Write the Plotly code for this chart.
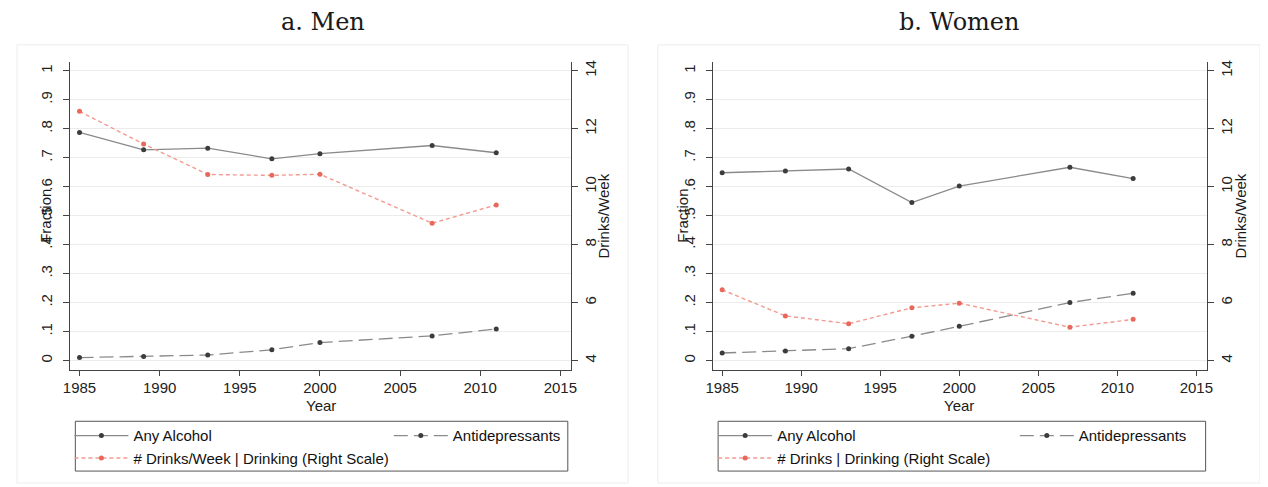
import plotly.graph_objects as go

# ---------------- data ----------------
years = [1985, 1989, 1993, 1997, 2000, 2007, 2011]

men_alcohol = [0.787, 0.727, 0.733, 0.696, 0.714, 0.742, 0.717]
men_antidep = [0.010, 0.014, 0.019, 0.037, 0.062, 0.085, 0.109]
men_drinks = [12.60, 11.47, 10.42, 10.39, 10.43, 8.74, 9.37]

women_alcohol = [0.648, 0.654, 0.661, 0.545, 0.602, 0.667, 0.628]
women_antidep = [0.026, 0.033, 0.041, 0.084, 0.118, 0.200, 0.232]
women_drinks = [6.44, 5.54, 5.27, 5.82, 5.98, 5.15, 5.42]

x_ticks = [1985, 1990, 1995, 2000, 2005, 2010, 2015]
frac_ticks = [0, 0.1, 0.2, 0.3, 0.4, 0.5, 0.6, 0.7, 0.8, 0.9, 1]
frac_labels = ["0", ".1", ".2", ".3", ".4", ".5", ".6", ".7", ".8", ".9", "1"]
drink_ticks = [4, 6, 8, 10, 12, 14]
drink_labels = ["4", "6", "8", "10", "12", "14"]

panel_titles = ["a. Men", "b. Women"]
men_drinks_name = "# Drinks/Week | Drinking (Right Scale)"
women_drinks_name = "# Drinks | Drinking (Right Scale)"

# ---------------- styling ----------------
OFF = 8            # default page body margin
W, H = 1260, 479
SANS = "Liberation Sans, Arial, sans-serif"
SERIF = "DejaVu Serif, Liberation Serif, serif"
GRAY_LINE = "#8a8a8a"
MARK = "#3c3c3c"
RED_LINE = "#f29a90"
RED_MARK = "#e8685c"
AX = "#444444"
GRID = "#ececec"


def px(x):
    return (x - OFF) / W


def py(y):
    return 1 - (y - OFF) / H


fig = go.Figure()


def add_panel(xa, ya, ya2, alc, anti, drk, drk_name, leg_a, leg_b):
    fig.add_trace(go.Scatter(
        x=years, y=alc, xaxis=xa, yaxis=ya, name="Any Alcohol", mode="lines+markers",
        line=dict(color=GRAY_LINE, width=1.3), marker=dict(color=MARK, size=5),
        legend=leg_a, legendrank=1))
    fig.add_trace(go.Scatter(
        x=years, y=drk, xaxis=xa, yaxis=ya2, name=drk_name, mode="lines+markers",
        line=dict(color=RED_LINE, width=1.4, dash="4px,3px"),
        marker=dict(color=RED_MARK, size=5), legend=leg_a, legendrank=2))
    fig.add_trace(go.Scatter(
        x=years, y=anti, xaxis=xa, yaxis=ya, name="Antidepressants", mode="lines+markers",
        line=dict(color=GRAY_LINE, width=1.3, dash="14px,6px"),
        marker=dict(color=MARK, size=5), legend=leg_b))


add_panel("x", "y", "y2", men_alcohol, men_antidep, men_drinks, men_drinks_name,
          "legend", "legend2")
add_panel("x2", "y3", "y4", women_alcohol, women_antidep, women_drinks, women_drinks_name,
          "legend3", "legend4")

xrange = [1984.43, 2015.65]
frange = [-0.0344, 1.031]
drange = [4 + 10 * frange[0], 4 + 10 * frange[1]]
ydom = [py(370), py(60)]

tickfont = dict(family=SANS, size=15, color="#222222")


def xaxis(dom, anchor):
    return dict(domain=dom, anchor=anchor, range=xrange, tickvals=x_ticks,
                showline=True, linecolor=AX, linewidth=1, ticks="outside", ticklen=5,
                tickcolor=AX, tickfont=tickfont, showgrid=False, zeroline=False,
                ticklabelstandoff=-1, fixedrange=True)


def yaxis_left(anchor):
    return dict(domain=ydom, anchor=anchor, range=frange, tickvals=frac_ticks,
                ticktext=frac_labels, tickangle=-90, showline=True, linecolor=AX,
                linewidth=1, ticks="outside", ticklen=6, tickcolor=AX, tickfont=tickfont,
                ticklabelstandoff=5,
                showgrid=True, gridcolor=GRID, gridwidth=1, zeroline=False)


def yaxis_right(anchor, overlay):
    return dict(domain=ydom, anchor=anchor, overlaying=overlay, side="right",
                range=drange, tickvals=drink_ticks, ticktext=drink_labels, tickangle=-90,
                showline=True, linecolor=AX, linewidth=1, ticks="outside", ticklen=6,
                tickcolor=AX, tickfont=tickfont, ticklabelstandoff=0,
                showgrid=False, zeroline=False)


# panel geometry (pixels in the window)
L_axis = (63, 569)
R_axis = (713, 1212)


def legend_cfg(xpix):
    return dict(x=px(xpix), y=py(419), xanchor="left", yanchor="top",
                bgcolor="rgba(0,0,0,0)", borderwidth=0, tracegroupgap=0,
                font=dict(family=SANS, size=15, color="#111111"), itemwidth=54)


fig.update_layout(
    width=W, height=H, autosize=False,
    margin=dict(l=0, r=0, t=0, b=0),
    paper_bgcolor="white", plot_bgcolor="white",
    showlegend=True,
    xaxis=xaxis([px(L_axis[0]), px(L_axis[1])], "y"),
    yaxis=yaxis_left("x"),
    yaxis2=yaxis_right("x", "y"),
    xaxis2=xaxis([px(R_axis[0]), px(R_axis[1])], "y3"),
    yaxis3=yaxis_left("x2"),
    yaxis4=yaxis_right("x2", "y3"),
    legend=legend_cfg(62),
    legend2=legend_cfg(385),
    legend3=legend_cfg(713),
    legend4=legend_cfg(1018),
)

shapes = []
# faint panel frames
for x0, x1 in [(9, 627), (657, 1266)]:
    shapes.append(dict(type="rect", xref="paper", yref="paper", x0=px(x0), x1=px(x1),
                       y0=py(483), y1=py(43), line=dict(color="#ededed", width=1),
                       fillcolor="rgba(0,0,0,0)", layer="below"))
# legend boxes
for x0, x1 in [(68, 566), (718, 1211)]:
    shapes.append(dict(type="rect", xref="paper", yref="paper", x0=px(x0), x1=px(x1),
                       y0=py(471), y1=py(421), line=dict(color="#555555", width=1),
                       fillcolor="rgba(0,0,0,0)"))
fig.update_layout(shapes=shapes)


def note(text, x, y, size=15, family=SANS, angle=0):
    return dict(text=text, x=px(x), y=py(y), xref="paper", yref="paper",
                xanchor="center", yanchor="middle", textangle=angle, showarrow=False,
                font=dict(family=family, size=size, color="#1a1a1a"))


ann = []
for title, cx in zip(panel_titles, [318, 962]):
    ann.append(note(title, cx, 20, size=24, family=SERIF))
for cx in [316, 962]:
    ann.append(note("Year", cx, 405))
for cx in [37, 682]:
    ann.append(note("Fraction", cx, 215, angle=-90))
for cx in [602, 1246]:
    ann.append(note("Drinks/Week", cx, 215, angle=-90))
fig.update_layout(annotations=ann)

fig.write_html("out.html")
